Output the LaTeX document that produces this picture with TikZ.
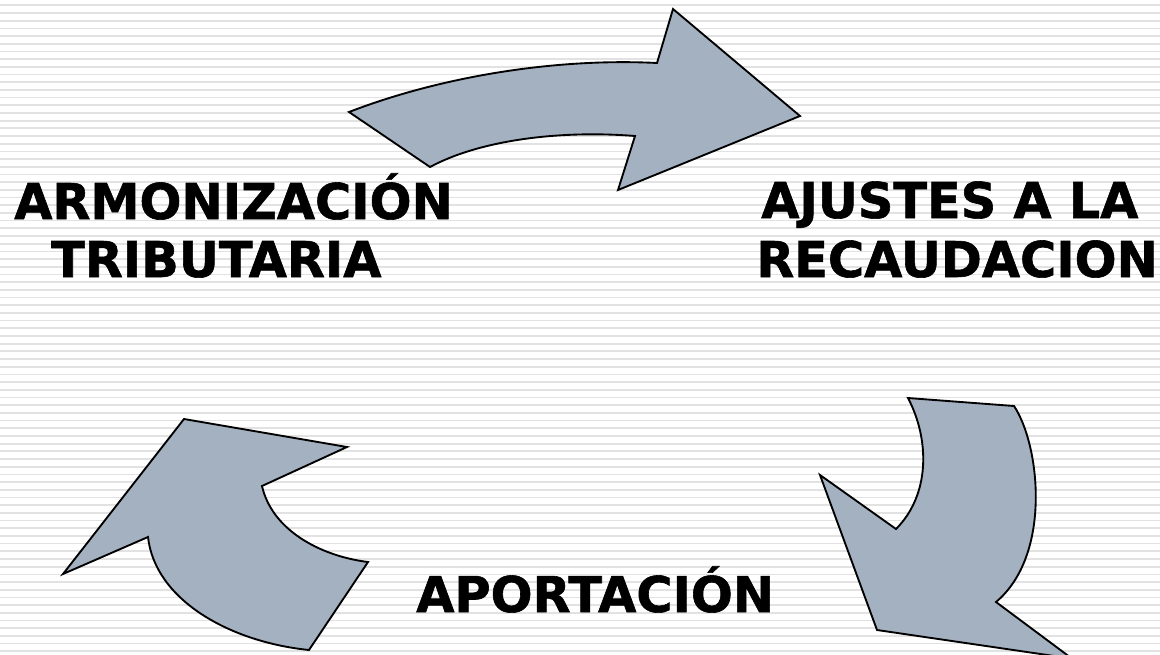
\documentclass[tikz,border=0pt]{standalone}
\usepackage{fontspec}
\setmainfont[BoldFeatures={FakeBold=1.2}]{DejaVu Sans}
\usepackage{tikz}
\definecolor{flechagris}{RGB}{163,177,193}
\definecolor{rayagris}{RGB}{226,226,226}
\tikzset{
	flecha/.style={fill=flechagris, draw=black, line width=1.4pt, line join=miter},
	rotulo/.style={font=\bfseries\fontsize{37}{44}\selectfont, anchor=base west, inner sep=0pt},
}

\begin{document}
\begin{tikzpicture}[x=0.75pt, y=-0.75pt]
			%%%%% START %%%%%
			
			\useasboundingbox (0, 0) rectangle (1160, 654);
			\clip (0, 0) rectangle (1160, 654);
			\fill[white] (0, 0) rectangle (1160, 654);
			
			% fondo rayado
			\foreach \i in {0,...,85}
				\draw[line width=1.3pt, color=rayagris] (0, 5.3+\i*7.69) -- (1160, 5.3+\i*7.69);
			
			% flecha de arriba
			\draw[flecha] (349, 112) .. controls (445, 75) and (560, 58) .. (657, 63)
				-- (673, 9) -- (800, 116) -- (618, 190) -- (635, 136)
				.. controls (560, 130) and (480, 140) .. (430, 167) -- cycle;
			
			% flecha de abajo a la derecha
			\draw[flecha] (908, 398) -- (1014, 406)
				.. controls (1040, 445) and (1052, 555) .. (996, 602)
				-- (1072, 658.6) -- (877, 630) -- (820, 475) -- (896, 529)
				.. controls (930, 495) and (930, 440) .. (908, 398) -- cycle;
			
			% flecha de abajo a la izquierda
			\draw[flecha] (184, 419) -- (347, 447) -- (262, 486)
				.. controls (272, 530) and (320, 556) .. (368, 562)
				-- (309, 650)
				.. controls (230, 642) and (155, 600) .. (148, 537)
				-- (63, 574) -- cycle;
			
			% textos
			\node[rotulo] (armon1) at (14, 219) {ARMONIZACIÓN};
			\node[rotulo] (armon2) at (51, 277) {TRIBUTARIA};
			\node[rotulo] (ajust1) at (761, 218) {AJUSTES A LA};
			\node[rotulo] (ajust2) at (756, 277) {RECAUDACION};
			\node[rotulo] (aport) at (416, 612) {APORTACIÓN};
			
			%%%%% END %%%%%
		\end{tikzpicture}
\end{document}
